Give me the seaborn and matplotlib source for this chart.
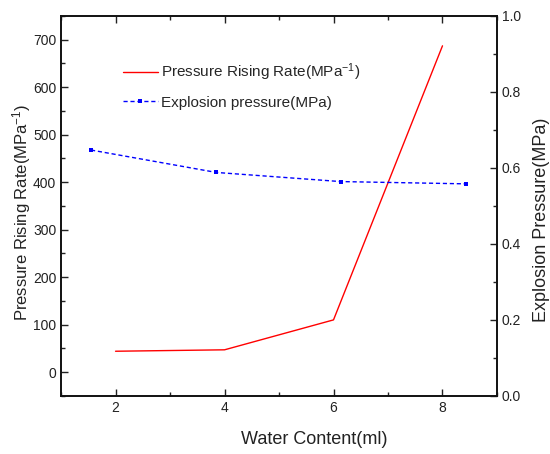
import pandas as pd
import matplotlib
matplotlib.use("Agg")
from matplotlib import pyplot as plt
from matplotlib.ticker import MultipleLocator
import seaborn as sns

# data
water_rate = [2, 4, 6, 8]
rising_rate = [44, 47, 110, 687]

water_expl = [1.55, 3.85, 6.13, 8.43]
expl_pressure = [0.647, 0.588, 0.564, 0.558]


def plot():
  sns.set_style("ticks")
  plt.rcParams["font.family"] = ["Liberation Sans", "DejaVu Sans"]
  plt.rcParams["mathtext.fontset"] = "custom"
  plt.rcParams["mathtext.rm"] = "Liberation Sans"
  plt.rcParams["mathtext.it"] = "Liberation Sans"

  df_rate = pd.DataFrame({"water": water_rate, "rate": rising_rate})
  df_expl = pd.DataFrame({"water": water_expl, "pressure": expl_pressure})

  fig = plt.figure(figsize=(5.5, 4.54), dpi=100)
  ax = fig.add_axes([0.111, 0.128, 0.7926, 0.837])
  ax2 = ax.twinx()

  sns.lineplot(x="water", y="rate", data=df_rate, ax=ax, color="#ff0000",
               linewidth=1, label="Pressure Rising Rate(MPa$^{-1}$)", legend=False)
  sns.lineplot(x="water", y="pressure", data=df_expl, ax=ax2, color="#0000ff",
               linewidth=1, linestyle=(0, (3, 2)), marker="s", markersize=3,
               markeredgewidth=0, label="Explosion pressure(MPa)", legend=False)

  ax.set_xlim(1, 9)
  ax.set_ylim(-50, 750)
  ax2.set_ylim(0, 1.0)

  ax.xaxis.set_major_locator(MultipleLocator(2))
  ax.xaxis.set_minor_locator(MultipleLocator(1))
  ax.yaxis.set_major_locator(MultipleLocator(100))
  ax.yaxis.set_minor_locator(MultipleLocator(50))
  ax2.yaxis.set_major_locator(MultipleLocator(0.2))
  ax2.yaxis.set_minor_locator(MultipleLocator(0.1))
  ax2.set_yticklabels(["%.1f" % v for v in ax2.get_yticks()])

  ax.tick_params(axis="both", which="both", direction="in", labelsize=10,
                 top=True, width=1, colors="#222222", labelcolor="#222222")
  ax.tick_params(which="major", length=5)
  ax.tick_params(which="minor", length=3)
  ax.tick_params(axis="x", which="both", labeltop=False)
  ax2.tick_params(axis="y", which="both", direction="in", labelsize=10, width=1,
                  colors="#222222", labelcolor="#222222")
  ax2.tick_params(which="major", length=5)
  ax2.tick_params(which="minor", length=3)

  for a in (ax, ax2):
    for s in a.spines.values():
      s.set_linewidth(1.2)
      s.set_color("#111111")

  ax.set_xlabel("Water Content(ml)", fontsize=13, color="#222222")
  ax.xaxis.set_label_coords(0.58, -0.092)
  ax.set_ylabel("Pressure Rising Rate(MPa$^{-1}$)", fontsize=12, color="#222222")
  ax.yaxis.set_label_coords(-0.065, 0.484)
  ax2.set_ylabel("Explosion Pressure(MPa)", fontsize=13, color="#222222")
  ax2.yaxis.set_label_coords(1.0826, 0.463)

  h1, l1 = ax.get_legend_handles_labels()
  h2, l2 = ax2.get_legend_handles_labels()
  ax.legend(h1 + h2, l1 + l2, loc="upper left", bbox_to_anchor=(0.11, 0.916),
            frameon=False, fontsize=11, handlelength=2.3, handletextpad=0.2,
            labelspacing=0.83)

  plt.savefig("out.png", dpi=100)


if __name__ == "__main__":
  plot()
